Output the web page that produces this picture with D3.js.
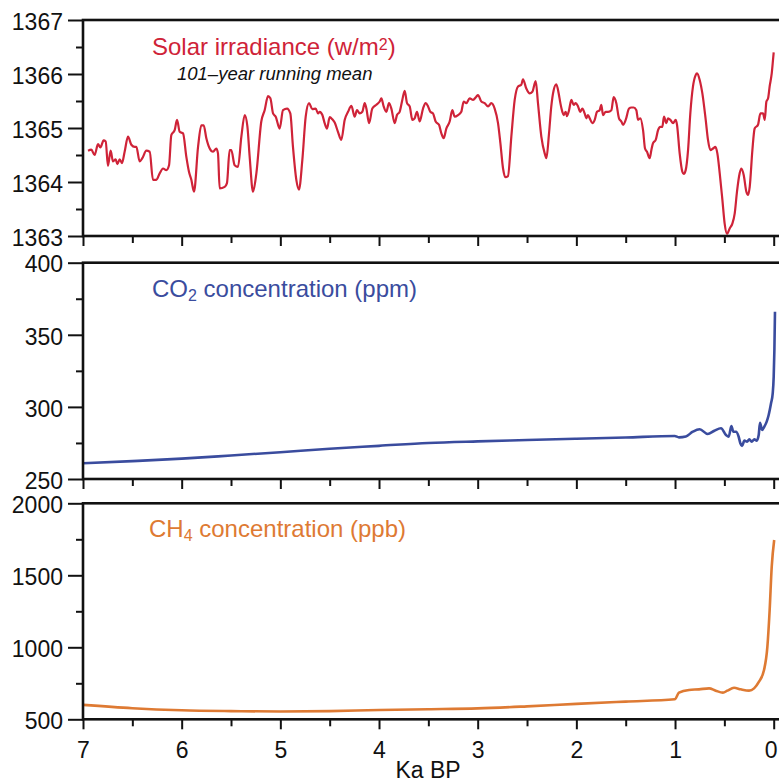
<!DOCTYPE html>
<html>
<head>
<meta charset="utf-8">
<title>Solar irradiance, CO2 and CH4 over the last 7 ka</title>
<script src="https://d3js.org/d3.v7.min.js"></script>
<style>
    body { margin: 0; background: #fff; }
    svg { display: block; font-family: "Liberation Sans", Arial, sans-serif; }
</style>
</head>
<body>
<div id="chartContainerId"></div>
<script>
"use strict";

// x axis: thousands of years before present
var xMajorTicks = [7, 6, 5, 4, 3, 2, 1, 0];
var xMinorTicks = [6.5, 5.5, 4.5, 3.5, 2.5, 1.5, 0.5];

// [ka BP, W/m2] - 101-year running mean
var solarSeries = [
    [6.949,1364.58],[6.916,1364.60],[6.882,1364.50],[6.848,1364.70],[6.824,1364.64],[6.791,1364.77],[6.770,1364.75],
    [6.747,1364.30],[6.720,1364.58],[6.696,1364.38],[6.669,1364.42],[6.652,1364.33],[6.628,1364.42],[6.605,1364.35],
    [6.578,1364.56],[6.544,1364.84],[6.510,1364.69],[6.476,1364.65],[6.459,1364.65],[6.426,1364.38],[6.399,1364.44],
    [6.358,1364.58],[6.324,1364.56],[6.291,1364.04],[6.257,1364.04],[6.223,1364.16],[6.189,1364.25],[6.155,1364.22],
    [6.128,1364.31],[6.105,1364.87],[6.071,1364.96],[6.047,1365.15],[6.020,1364.93],[5.986,1364.90],[5.953,1364.47],
    [5.926,1364.19],[5.902,1364.04],[5.875,1363.82],[5.834,1364.65],[5.801,1365.05],[5.777,1365.05],[5.750,1364.81],
    [5.716,1364.62],[5.682,1364.56],[5.649,1364.62],[5.632,1364.53],[5.615,1363.88],[5.564,1363.91],[5.541,1363.98],
    [5.514,1364.59],[5.497,1364.59],[5.463,1364.31],[5.429,1364.28],[5.395,1364.84],[5.361,1365.24],[5.334,1365.03],
    [5.311,1364.47],[5.277,1363.82],[5.243,1364.16],[5.193,1365.12],[5.159,1365.33],[5.125,1365.59],[5.101,1365.55],
    [5.074,1365.27],[5.047,1365.21],[5.007,1364.99],[4.973,1365.33],[4.932,1365.36],[4.899,1365.27],[4.872,1364.65],
    [4.838,1364.04],[4.811,1363.86],[4.777,1364.41],[4.743,1365.21],[4.709,1365.46],[4.676,1365.35],
    [4.642,1365.36],[4.618,1365.27],[4.601,1365.30],[4.574,1365.24],[4.551,1365.09],[4.527,1364.99],[4.500,1365.20],
    [4.473,1365.16],[4.449,1365.10],[4.416,1364.93],[4.382,1364.78],[4.348,1365.15],[4.314,1365.30],[4.280,1365.41],
    [4.247,1365.21],[4.223,1365.33],[4.196,1365.27],[4.169,1365.30],[4.145,1365.46],[4.128,1365.36],[4.101,1365.09],
    [4.068,1365.36],[4.027,1365.43],[3.993,1365.49],[3.976,1365.55],[3.953,1365.40],[3.926,1365.30],[3.899,1365.46],
    [3.875,1365.36],[3.841,1365.09],[3.818,1365.24],[3.791,1365.30],[3.764,1365.52],[3.740,1365.69],[3.716,1365.46],
    [3.689,1365.40],[3.662,1365.15],[3.639,1365.18],[3.615,1365.30],[3.588,1365.12],[3.554,1365.36],[3.527,1365.46],
    [3.503,1365.40],[3.480,1365.30],[3.453,1365.27],[3.426,1365.12],[3.392,1365.06],[3.368,1364.90],[3.345,1364.81],
    [3.318,1364.99],[3.284,1365.12],[3.257,1365.33],[3.233,1365.21],[3.199,1365.24],[3.166,1365.30],[3.142,1365.49],
    [3.115,1365.46],[3.081,1365.55],[3.047,1365.52],[3.014,1365.58],[2.997,1365.61],[2.963,1365.49],[2.929,1365.46],
    [2.895,1365.40],[2.862,1365.46],[2.828,1365.36],[2.794,1365.09],[2.770,1364.72],[2.743,1364.25],[2.720,1364.09],
    [2.693,1364.11],[2.659,1364.84],[2.625,1365.52],[2.591,1365.77],[2.558,1365.80],[2.541,1365.90],[2.507,1365.73],
    [2.473,1365.64],[2.446,1365.67],[2.412,1365.87],[2.389,1365.46],[2.355,1364.84],
    [2.321,1364.53],[2.304,1364.44],[2.277,1364.90],[2.254,1365.40],[2.230,1365.70],[2.203,1365.81],[2.179,1365.64],
    [2.162,1365.46],[2.142,1365.30],[2.128,1365.24],[2.108,1365.30],[2.095,1365.22],[2.074,1365.33],[2.051,1365.52],
    [2.027,1365.43],[2.007,1365.46],[1.983,1365.40],[1.960,1365.30],[1.939,1365.36],[1.916,1365.27],[1.899,1365.18],
    [1.882,1365.24],[1.865,1365.18],[1.838,1365.09],[1.814,1365.15],[1.791,1365.30],[1.764,1365.33],[1.747,1365.43],
    [1.730,1365.24],[1.703,1365.30],[1.679,1365.30],[1.645,1365.33],[1.622,1365.57],[1.595,1365.46],[1.568,1365.18],
    [1.544,1365.12],[1.527,1365.06],[1.500,1365.15],[1.466,1365.36],[1.443,1365.38],[1.419,1365.38],[1.392,1365.33],
    [1.375,1365.15],[1.351,1365.18],[1.324,1364.96],[1.304,1364.62],[1.284,1364.56],[1.257,1364.44],[1.240,1364.59],
    [1.223,1364.72],[1.196,1364.78],[1.172,1364.96],[1.149,1365.02],[1.129,1365.02],[1.112,1365.21],[1.088,1365.09],
    [1.071,1365.18],[1.047,1365.15],[1.020,1365.09],[0.993,1365.15],[0.980,1365.06],[0.953,1364.53],[0.926,1364.19],
    [0.912,1364.15],[0.892,1364.22],[0.868,1364.59],[0.845,1365.27],[0.818,1365.77],[0.791,1365.98],[0.777,1366.01],
    [0.750,1365.89],[0.723,1365.64],[0.689,1365.15],[0.666,1364.78],[0.642,1364.59],[0.615,1364.62],[0.591,1364.65],
    [0.571,1364.53],[0.547,1364.16],[0.520,1363.67],[0.497,1363.23],[0.473,1363.04],[0.446,1363.14],[0.419,1363.23],
    [0.395,1363.42],[0.372,1363.82],[0.345,1364.16],[0.328,1364.25],[0.304,1364.13],[0.277,1363.82],[0.260,1363.76],
    [0.243,1363.91],[0.216,1364.59],[0.193,1364.99],[0.159,1365.06],[0.135,1365.27],[0.108,1365.27],[0.091,1365.15],
    [0.074,1365.49],[0.057,1365.55],[0.041,1365.77],[0.020,1366.01],[0.007,1366.26],[0.000,1366.40]
];

// [ka BP, ppm]
var co2Series = [
    [7.0,260.9],[6.5,262.4],[6.0,264.1],[5.5,266.3],[5.0,268.6],[4.5,271.0],[4.0,273.0],[3.5,275.0],
    [3.0,276.1],[2.5,277.0],[2.0,277.9],[1.5,278.8],[1.003,279.8],[0.96,278.9],[0.89,279.5],[0.82,282.8],
    [0.75,284.5],[0.669,281.2],[0.601,283.5],[0.534,285.2],[0.483,280.5],[0.456,279.3],[0.429,286.8],
    [0.409,282.8],[0.382,282.8],[0.355,279.3],[0.338,274.8],[0.321,272.9],[0.297,276.6],[0.270,275.9],
    [0.247,277.5],[0.223,275.9],[0.196,277.5],[0.172,276.6],[0.152,280.5],[0.139,289.0],[0.118,284.0],
    [0.095,286.3],[0.071,289.8],[0.051,294.4],[0.027,302.5],[0.010,309.4],[0.0,321.0],[-0.007,339.5],[-0.013,366.0]
];

// [ka BP, ppb]
var ch4Series = [
    [7.0,600],[6.5,577],[6.0,563],[5.5,557],[5.0,554],[4.5,557],[4.0,565],[3.5,570],[3.0,576],[2.5,590],
    [2.0,607],[1.5,623],[1.003,639],[0.96,685],[0.858,704],[0.757,708],[0.655,715],[0.588,699],[0.514,685],
    [0.470,699],[0.402,719],[0.334,708],[0.250,699],[0.199,715],[0.149,761],[0.098,842],[0.064,1004],
    [0.041,1259],[0.020,1560],[-0.005,1745]
];

var solarTicks = [1363, 1364, 1365, 1366, 1367];
var solarMinorTicks = [1363.5, 1364.5, 1365.5, 1366.5];
var co2Ticks = [250, 300, 350, 400];
var co2MinorTicks = [275, 325, 375];
var ch4Ticks = [500, 1000, 1500, 2000];
var ch4MinorTicks = [750, 1250, 1750];


var width = 779, height = 783;
var plotLeft = 83;

var xScale = d3.scaleLinear().domain([7, 0]).range([plotLeft, 773.7]);

var panels = [
    { series: solarSeries, domain: [1363, 1367], ticks: solarTicks, minor: solarMinorTicks,
      top: 20, bottom: 236, color: "#cf2338", lineWidth: 2.2 },
    { series: co2Series, domain: [250, 400], ticks: co2Ticks, minor: co2MinorTicks,
      top: 262.7, bottom: 479, color: "#3a4c9e", lineWidth: 2.6 },
    { series: ch4Series, domain: [500, 2000], ticks: ch4Ticks, minor: ch4MinorTicks,
      top: 503.3, bottom: 719.3, color: "#de7a33", lineWidth: 2.6 }
];


var svg = d3.select("#chartContainerId")
            .append("svg")
            .attr("width", width)
            .attr("height", height);

svg.append("rect").attr("width", width).attr("height", height).attr("fill", "#fff");

panels.forEach(function(p, i) {
    drawPanel(p, i === panels.length - 1);
});

addTitles();

svg.append("text")
   .attr("x", 428).attr("y", 778)
   .attr("text-anchor", "middle")
   .attr("font-size", 23)
   .attr("fill", "#111")
   .text("Ka BP");


function styleAxis(g) {
    g.select(".domain").remove();
    g.selectAll(".tick line").attr("stroke", "#111").attr("stroke-width", 2);
    g.selectAll(".tick text").attr("fill", "#111");
    g.attr("font-family", null).attr("font-size", 23);
}


function drawPanel(p, showXLabels) {

    var yScale = d3.scaleLinear().domain(p.domain).range([p.bottom, p.top]);

    var g = svg.append("g");

    g.append("g")
     .attr("transform", "translate(" + plotLeft + ",0)")
     .call(d3.axisLeft(yScale).tickValues(p.minor).tickSize(7).tickFormat(""))
     .call(styleAxis);

    g.append("g")
     .attr("transform", "translate(" + plotLeft + ",0)")
     .call(d3.axisLeft(yScale).tickValues(p.ticks).tickSize(15).tickPadding(5).tickFormat(d3.format("d")))
     .call(styleAxis)
     .selectAll(".tick text").attr("dy", "0.4em");

    g.append("g")
     .attr("transform", "translate(0," + p.bottom + ")")
     .call(d3.axisBottom(xScale).tickValues(xMinorTicks).tickSize(7).tickFormat(""))
     .call(styleAxis);

    var xAxisG = g.append("g")
     .attr("transform", "translate(0," + p.bottom + ")")
     .call(d3.axisBottom(xScale).tickValues(xMajorTicks).tickSize(10).tickPadding(12)
              .tickFormat(showXLabels ? d3.format("d") : ""))
     .call(styleAxis);

    // keep the "0" label inside the picture
    xAxisG.selectAll(".tick text")
          .filter(function(d) { return d === 0; })
          .attr("x", -3);

    var line = d3.line()
                 .x(function(d) { return xScale(d[0]); })
                 .y(function(d) { return yScale(d[1]); })
                 .curve(d3.curveMonotoneX);

    g.append("path")
     .datum(p.series)
     .attr("d", line)
     .attr("fill", "none")
     .attr("stroke", p.color)
     .attr("stroke-width", p.lineWidth)
     .attr("stroke-linejoin", "round");

    // frame - right side runs off the picture
    g.append("rect")
     .attr("x", plotLeft).attr("y", p.top)
     .attr("width", width + 20 - plotLeft).attr("height", p.bottom - p.top)
     .attr("fill", "none")
     .attr("stroke", "#111")
     .attr("stroke-width", 2.6);
}


function addTitles() {

    var solar = svg.append("text").attr("x", 152).attr("y", 55)
                   .attr("font-size", 24).attr("fill", panels[0].color);
    solar.append("tspan").text("Solar irradiance (w/m");
    solar.append("tspan").attr("font-size", 16).attr("dy", -5).text("2");
    solar.append("tspan").attr("dy", 5).text(")");

    svg.append("text").attr("x", 177).attr("y", 80)
       .attr("font-size", 18.5).attr("font-style", "italic").attr("fill", "#111")
       .text("101\u2013year running mean");

    var co2 = svg.append("text").attr("x", 152).attr("y", 297)
                 .attr("font-size", 24).attr("fill", panels[1].color);
    co2.append("tspan").text("CO");
    co2.append("tspan").attr("font-size", 16).attr("dy", 4).text("2");
    co2.append("tspan").attr("dy", -4).text(" concentration (ppm)");

    var ch4 = svg.append("text").attr("x", 149).attr("y", 537)
                 .attr("font-size", 24).attr("fill", panels[2].color);
    ch4.append("tspan").text("CH");
    ch4.append("tspan").attr("font-size", 16).attr("dy", 4).text("4");
    ch4.append("tspan").attr("dy", -4).text(" concentration (ppb)");
}

</script>
</body>
</html>
